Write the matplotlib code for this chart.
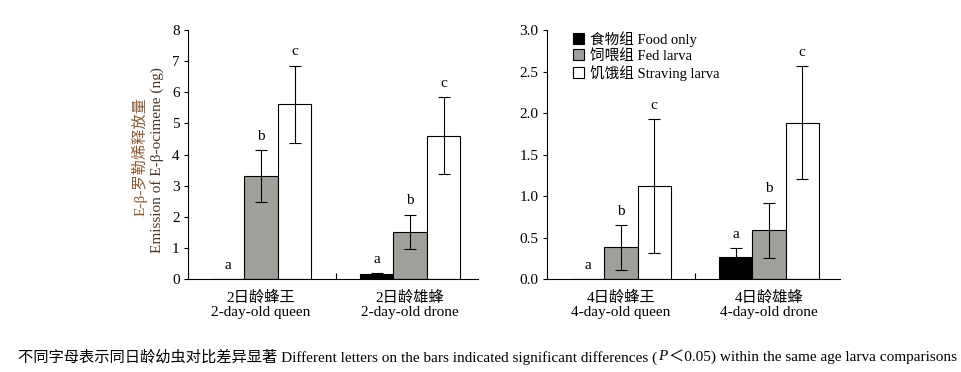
import matplotlib
matplotlib.use("Agg")
import matplotlib.pyplot as plt
from matplotlib.patches import Patch
import numpy as np

FONT = ['Liberation Serif', 'Noto Sans CJK SC']
plt.rcParams['font.family'] = FONT
plt.rcParams['font.size'] = 11

# data
groups = ['食物组 Food only', '饲喂组 Fed larva', '饥饿组 Straving larva']
colors = ['#000000', '#a09f9a', '#ffffff']

cats_2d = ['2日龄蜂王\n2-day-old queen', '2日龄雄蜂\n2-day-old drone']
vals_2d = [[0.0, 0.17], [3.32, 1.52], [5.62, 4.60]]
errs_2d = [[0.0, 0.02], [0.83, 0.55], [1.24, 1.24]]
lets_2d = [['a', 'a'], ['b', 'b'], ['c', 'c']]

cats_4d = ['4日龄蜂王\n4-day-old queen', '4日龄雄蜂\n4-day-old drone']
vals_4d = [[0.0, 0.265], [0.38, 0.585], [1.12, 1.885]]
errs_4d = [[0.0, 0.105], [0.27, 0.335], [0.81, 0.68]]
lets_4d = [['a', 'a'], ['b', 'b'], ['c', 'c']]

fig = plt.figure(figsize=(9.62, 3.72), dpi=100)
ax1 = fig.add_axes([0.1954, 0.25, 0.3015, 0.669])
ax2 = fig.add_axes([0.5686, 0.25, 0.3046, 0.669])

w = 0.225
x = np.arange(2)


def draw(ax, cats, vals, errs, lets, ymax, step, fmt, xlim):
    for i in range(3):
        pos = x + (i - 1) * w
        ax.bar(pos, vals[i], width=w, color=colors[i], edgecolor='black', linewidth=0.8)
        for j in range(2):
            if errs[i][j] > 0:
                ax.errorbar(pos[j], vals[i][j], yerr=errs[i][j], fmt='none', ecolor='black',
                            elinewidth=0.8, capsize=4, capthick=0.8)
            ax.annotate(lets[i][j], (pos[j], vals[i][j] + errs[i][j]), xytext=(0, 10),
                        textcoords='offset points', ha='center', va='center', fontsize=11)
    ax.set_xlim(*xlim)
    ax.set_ylim(0, ymax)
    ticks = np.arange(0, ymax + step / 2, step)
    ax.set_yticks(ticks)
    ax.set_yticklabels([fmt.format(t) for t in ticks])
    ax.set_xticks(x)
    ax.set_xticklabels(cats, linespacing=1.15)
    ax.tick_params(axis='x', length=0, pad=8)
    ax.set_xticks([0.5], minor=True)
    ax.tick_params(axis='x', which='minor', direction='in', length=4, width=0.8)
    ax.tick_params(axis='y', direction='out', length=3, width=0.8, pad=3)
    for s in ['top', 'right']:
        ax.spines[s].set_visible(False)
    for s in ['left', 'bottom']:
        ax.spines[s].set_linewidth(0.8)


draw(ax1, cats_2d, vals_2d, errs_2d, lets_2d, 8, 1, '{:.0f}', (-0.49, 1.456))
draw(ax2, cats_4d, vals_4d, errs_4d, lets_4d, 3.0, 0.5, '{:.1f}', (-0.5, 1.48))

handles = [Patch(facecolor=c, edgecolor='black', linewidth=0.8) for c in colors]
ax2.legend(handles, groups, loc='upper left', bbox_to_anchor=(0.07, 1.02), frameon=False,
           handlelength=0.75, handleheight=0.75, handletextpad=0.4, labelspacing=0.15,
           borderaxespad=0, fontsize=10.5)

fig.text(0.1455, 0.58, 'E-β-罗勒烯释放量', rotation=90, ha='center', va='center',
         color='#8a5a30', fontsize=11)
fig.text(0.1632, 0.57, 'Emission of E-β-ocimene (ng)', rotation=90, ha='center', va='center',
         color='#4a3526', fontsize=11)

# caption with italic P
fig.canvas.draw()
r = fig.canvas.get_renderer()
parts = [('不同字母表示同日龄幼虫对比差异显著 Different letters on the bars indicated significant differences (', 'normal'),
         ('P', 'italic'),
         ('＜0.05) within the same age larva comparisons', 'normal')]
xp = 18
for txt, st in parts:
    t = fig.text(xp / 962, 1 - 357 / 372, txt, ha='left', va='center', fontsize=11, style=st)
    bb = t.get_window_extent(renderer=r)
    xp = bb.x1 + 1

fig.savefig('out.png', dpi=100)
